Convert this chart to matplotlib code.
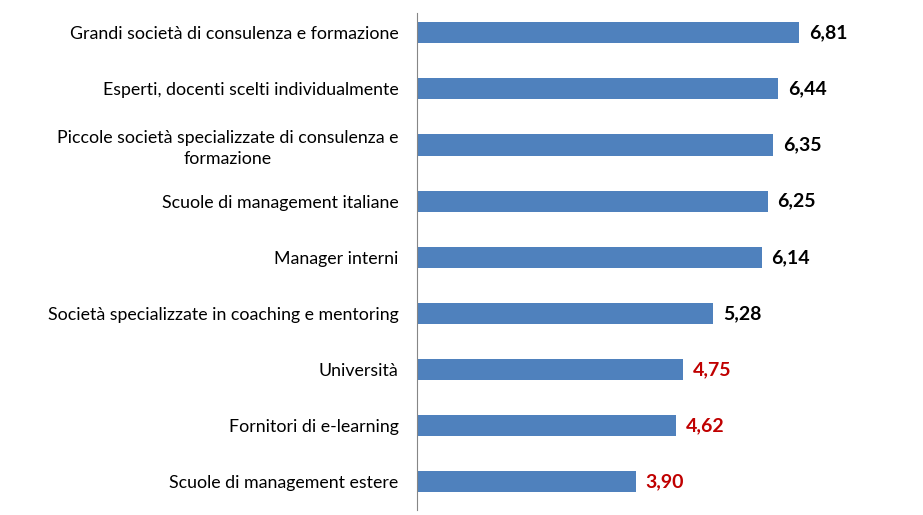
import matplotlib.pyplot as plt

plt.rcParams['font.family'] = ['Lato', 'DejaVu Sans']

categories = [
    'Grandi società di consulenza e formazione',
    'Esperti, docenti scelti individualmente',
    'Piccole società specializzate di consulenza e\nformazione',
    'Scuole di management italiane',
    'Manager interni',
    'Società specializzate in coaching e mentoring',
    'Università',
    'Fornitori di e-learning',
    'Scuole di management estere',
]
values = [6.81, 6.44, 6.35, 6.25, 6.14, 5.28, 4.75, 4.62, 3.90]
value_labels = ['6,81', '6,44', '6,35', '6,25', '6,14', '5,28', '4,75', '4,62', '3,90']
label_colors = ['black'] * 6 + ['#C00000'] * 3

fig = plt.figure(figsize=(9.23, 5.15), dpi=100)
ax = fig.add_axes([416.5 / 923, 5 / 515, (8 * 56.2) / 923, 497 / 515])

pos = list(range(len(categories)))
ax.barh(pos, values, height=0.375, color='#4F81BD')

for p, v, lab, c in zip(pos, values, value_labels, label_colors):
    ax.text(v + 0.17, p, lab, va='center', ha='left', fontsize=14,
            fontweight='bold', color=c)

ax.set_xlim(0, 8)
ax.set_ylim(8.5, -0.35)
ax.set_yticks(pos)
ax.set_yticklabels(categories, fontsize=12.8, multialignment='center',
                   linespacing=1.35)
ax.tick_params(axis='y', length=0, pad=13)
ax.set_xticks([])
for s in ['top', 'right', 'bottom']:
    ax.spines[s].set_visible(False)
ax.spines['left'].set_color('#868686')

fig.savefig('out.png', dpi=100)
